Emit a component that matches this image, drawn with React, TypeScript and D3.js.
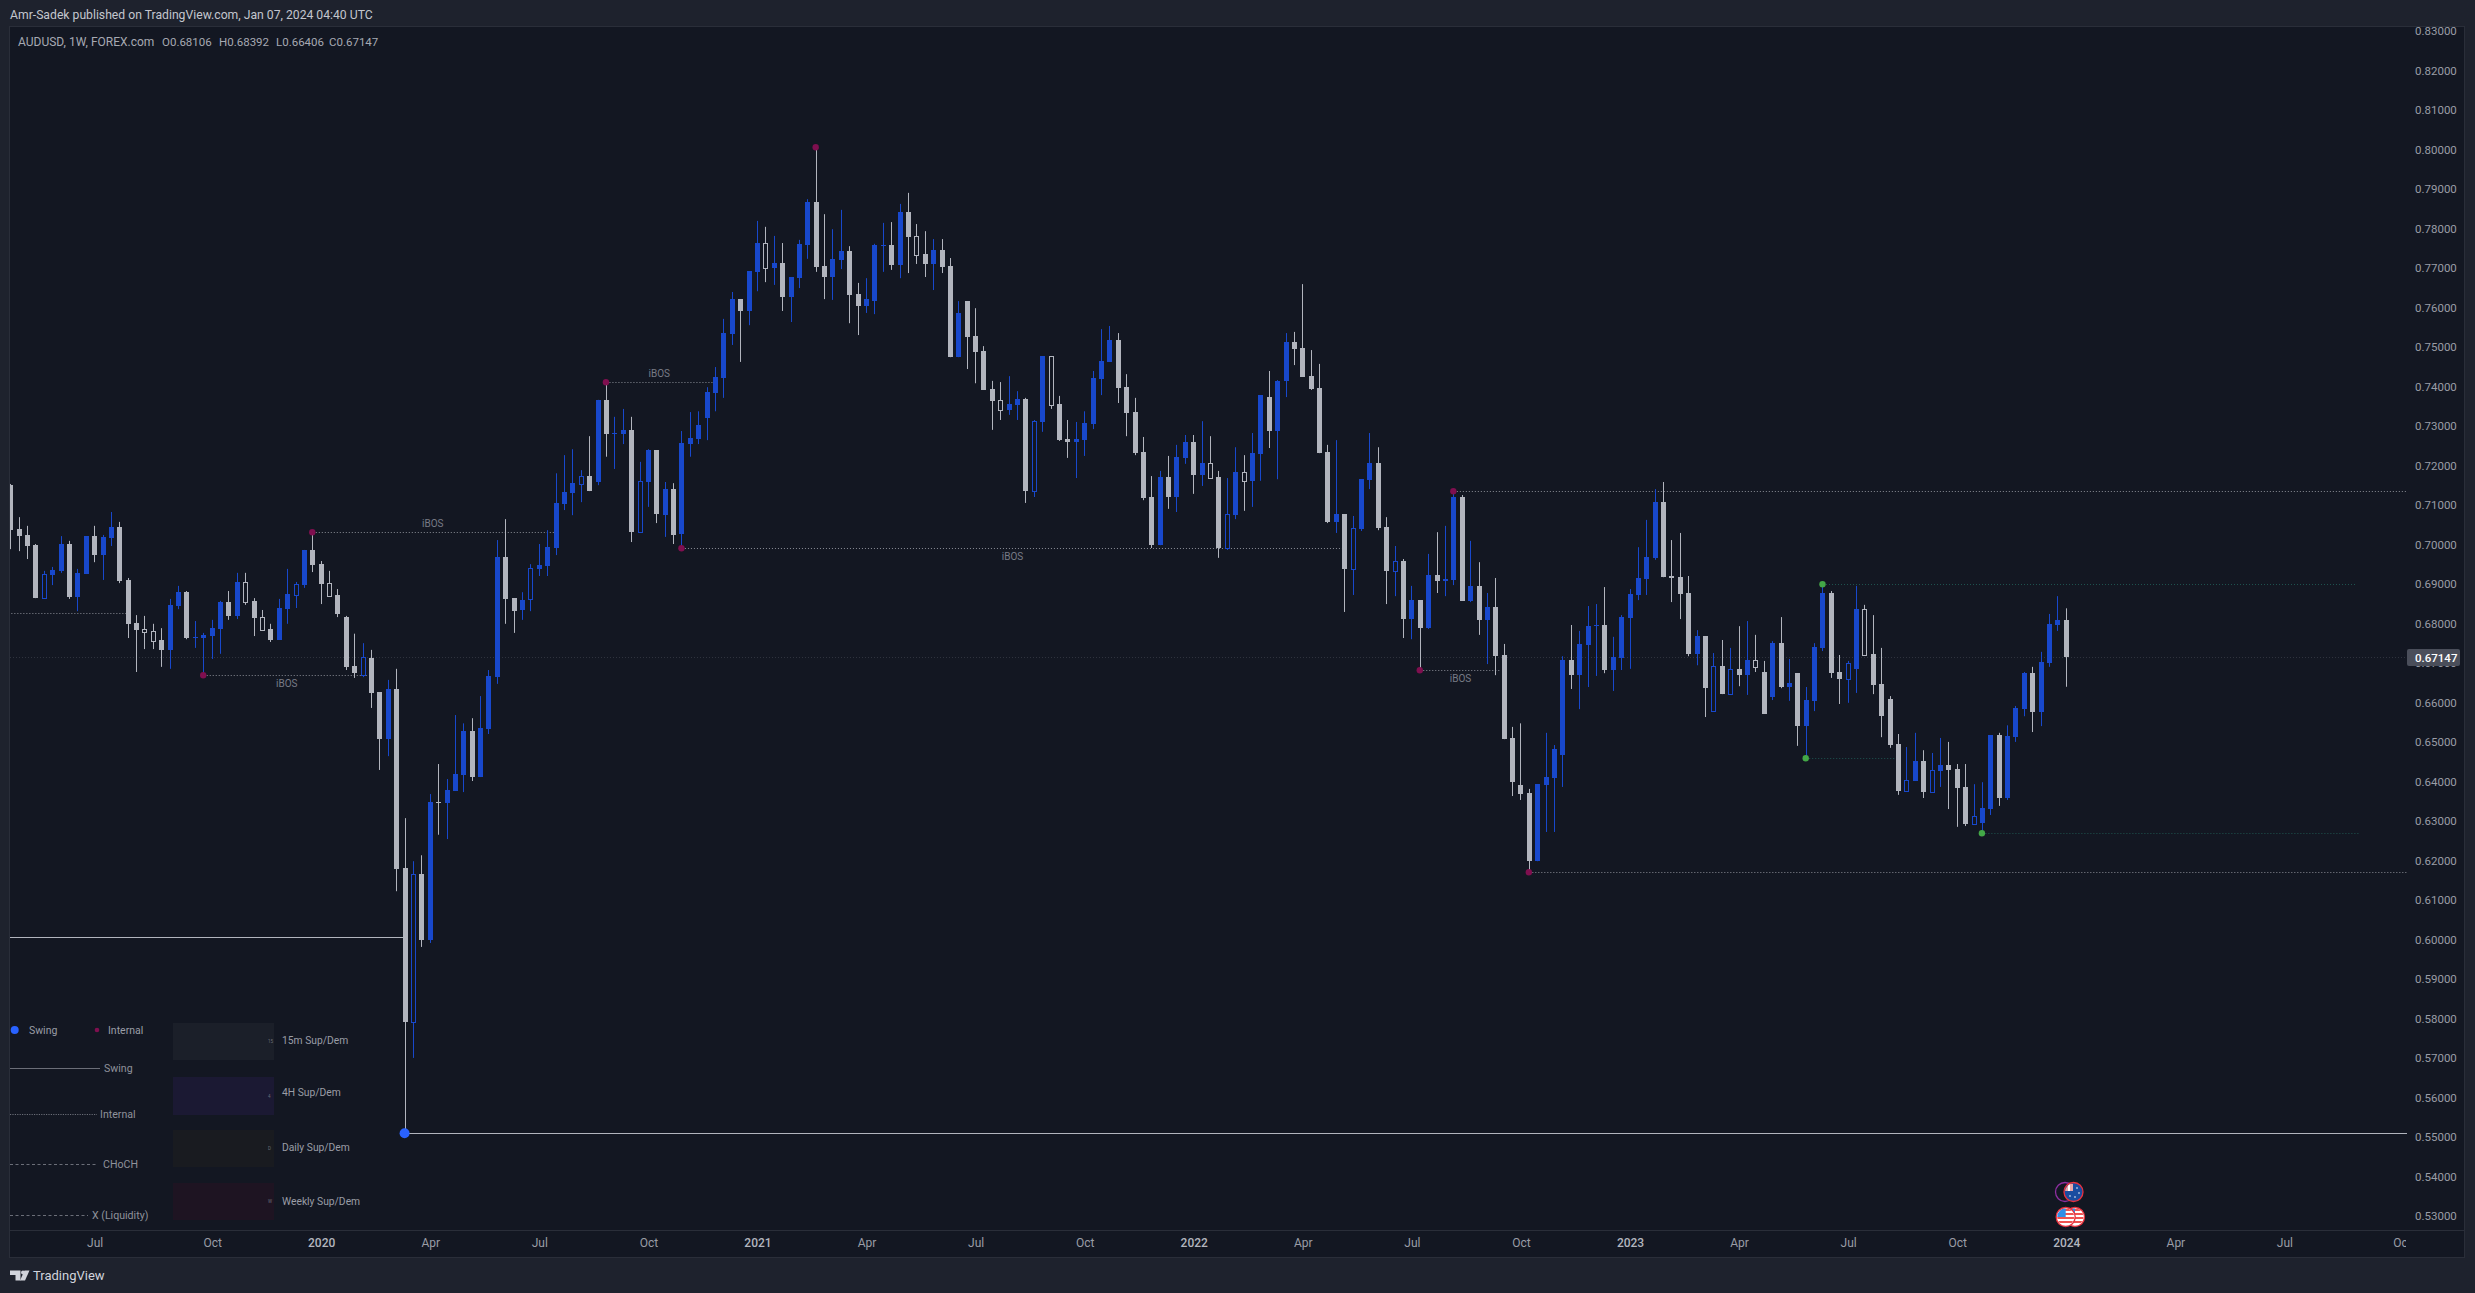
// AUDUSD weekly candles, TradingView dark layout
import React, { useRef, useEffect } from "react";
import * as d3 from "d3";

const opens = [
  .7151, .7040, .7025, .6999, .6865, .6923, .6934, .7002, .6868, .6926,
  .7022, .6974, .7017, .7045, .6911, .6802, .6787, .6782, .6759, .6734,
  .6845, .6880, .6764, .6764, .6769, .6787, .6855, .6820, .6906, .6858,
  .6817, .6787, .6759, .6837, .6873, .6898, .6987, .6951, .6903, .6873,
  .6817, .6693, .6670, .6713, .6627, .6508, .6635, .6182, .5792, .6167,
  .5999, .6349, .6346, .6377, .6417, .6529, .6412, .6534, .6665, .6969,
  .6865, .6835, .6863, .6939, .6946, .6992, .7103, .7131, .7154, .7174,
  .7159, .7367, .7281, .7281, .7291, .7032, .7159, .7240, .7075, .7141,
  .7027, .7255, .7268, .7321, .7384, .7422, .7534, .7622, .7592, .7691,
  .7764, .7701, .7713, .7627, .7675, .7759, .7868, .7706, .7678, .7721,
  .7744, .7635, .7604, .7617, .7756, .7759, .7708, .7842, .7782, .7736,
  .7711, .7746, .7706, .7475, .7617, .7528, .7491, .7394, .7367, .7341,
  .7354, .7369, .7136, .7311, .7478, .7357, .7268, .7260, .7265, .7306,
  .7419, .7463, .7519, .7399, .7336, .7235, .7121, .6999, .7172, .7121,
  .7220, .7260, .7177, .7207, .7172, .6992, .7075, .7184, .7162, .7230,
  .7374, .7288, .7415, .7513, .7498, .7427, .7397, .7235, .7058, .7078,
  .6939, .7040, .7164, .7207, .7045, .6934, .6959, .6812, .6860, .6789,
  .6923, .6908, .6911, .7121, .6858, .6896, .6810, .6843, .6721, .6511,
  .6392, .6372, .6199, .6392, .6410, .6468, .6708, .6670, .6746, .6794,
  .6797, .6683, .6713, .6815, .6873, .6913, .6967, .7108, .6921, .6918,
  .6878, .6724, .6769, .6579, .6693, .6622, .6686, .6670, .6708, .6678,
  .6615, .6751, .6640, .6675, .6541, .6605, .6739, .6878, .6678, .6660,
  .6686, .6837, .6724, .6648, .6609, .6496, .6377, .6402, .6453, .6374,
  .6427, .6443, .6432, .6387, .6293, .6296, .6331, .6518, .6359, .6513,
  .6584, .6675, .6577, .6701, .6797, .68106,
];
const highs = [
  .7154, .7070, .7048, .7002, .6934, .6944, .7022, .7010, .6939, .7022,
  .7048, .7025, .7083, .7058, .6916, .6822, .6820, .6800, .6789, .6863,
  .6896, .6883, .6807, .6777, .6810, .6858, .6883, .6929, .6929, .6865,
  .6835, .6800, .6863, .6939, .6906, .6987, .7030, .6959, .6934, .6888,
  .6820, .6775, .6751, .6734, .6627, .6658, .6686, .6308, .6199, .6214,
  .6369, .6445, .6407, .6569, .6548, .6561, .6617, .6683, .7012, .7065,
  .6865, .6880, .6951, .7002, .7037, .7181, .7227, .7242, .7189, .7275,
  .7367, .7409, .7324, .7344, .7324, .7210, .7242, .7240, .7159, .7156,
  .7288, .7336, .7338, .7399, .7450, .7572, .7640, .7622, .7693, .7820,
  .7805, .7782, .7764, .7678, .7772, .7875, .8004, .7837, .7799, .7848,
  .7756, .7663, .7675, .7762, .7815, .7817, .7863, .7891, .7812, .7794,
  .7774, .7774, .7726, .7617, .7617, .7599, .7503, .7415, .7412, .7427,
  .7389, .7372, .7316, .7478, .7478, .7377, .7316, .7311, .7338, .7440,
  .7546, .7554, .7536, .7432, .7372, .7273, .7174, .7187, .7225, .7253,
  .7278, .7278, .7313, .7275, .7187, .7169, .7247, .7227, .7283, .7379,
  .7440, .7417, .7536, .7539, .7660, .7493, .7458, .7253, .7265, .7078,
  .7073, .7166, .7283, .7247, .7070, .6997, .6964, .6896, .6860, .6977,
  .7032, .7048, .7131, .7126, .7010, .6956, .6878, .6916, .6749, .6539,
  .6548, .6382, .6394, .6524, .6493, .6718, .6797, .6782, .6845, .6850,
  .6893, .6767, .6822, .6888, .6994, .7063, .7141, .7159, .7012, .7030,
  .6921, .6784, .6769, .6726, .6759, .6739, .6794, .6807, .6772, .6706,
  .6756, .6817, .6711, .6675, .6640, .6751, .6898, .6883, .6721, .6706,
  .6896, .6848, .6822, .6739, .6617, .6521, .6488, .6524, .6480, .6473,
  .6511, .6501, .6445, .6445, .6394, .6399, .6518, .6524, .6543, .6592,
  .6678, .6691, .6729, .6825, .6870, .68392,
];
const lows = [
  .6989, .6984, .6964, .6865, .6865, .6898, .6929, .6863, .6832, .6926,
  .6956, .6911, .6997, .6903, .6764, .6678, .6736, .6736, .6691, .6686,
  .6837, .6761, .6739, .6670, .6711, .6724, .6810, .6812, .6848, .6769,
  .6782, .6754, .6759, .6800, .6840, .6891, .6931, .6850, .6870, .6817,
  .6683, .6663, .6665, .6587, .6430, .6465, .6123, .5511, .5701, .5982,
  .5992, .6266, .6255, .6377, .6374, .6402, .6412, .6521, .6648, .6800,
  .6777, .6810, .6832, .6921, .6921, .6974, .7088, .7075, .7108, .7136,
  .7151, .7223, .7192, .7255, .7007, .7030, .7096, .7055, .7020, .7002,
  .6992, .7223, .7255, .7265, .7338, .7372, .7506, .7463, .7556, .7642,
  .7665, .7658, .7592, .7564, .7650, .7724, .7691, .7622, .7620, .7698,
  .7561, .7531, .7587, .7584, .7691, .7696, .7675, .7688, .7711, .7678,
  .7645, .7688, .7475, .7475, .7445, .7409, .7392, .7291, .7316, .7329,
  .7316, .7106, .7121, .7286, .7344, .7263, .7220, .7169, .7225, .7293,
  .7379, .7463, .7359, .7275, .7227, .7113, .6992, .6999, .7091, .7083,
  .7205, .7129, .7149, .7169, .6967, .6987, .7065, .7086, .7096, .7162,
  .7245, .7166, .7374, .7455, .7425, .7392, .7232, .7055, .7030, .6830,
  .6873, .7035, .7141, .7037, .6850, .6870, .6764, .6761, .6683, .6787,
  .6878, .6870, .6898, .6858, .6855, .6772, .6698, .6670, .6508, .6364,
  .6354, .6171, .6199, .6273, .6273, .6387, .6635, .6584, .6640, .6668,
  .6675, .6630, .6683, .6686, .6860, .6873, .6962, .6918, .6855, .6812,
  .6718, .6695, .6564, .6579, .6622, .6622, .6642, .6620, .6678, .6572,
  .6607, .6637, .6605, .6491, .6460, .6579, .6731, .6663, .6597, .6600,
  .6625, .6721, .6622, .6513, .6486, .6367, .6377, .6402, .6359, .6374,
  .6387, .6331, .6286, .6288, .6293, .6273, .6316, .6339, .6354, .6501,
  .6566, .6526, .6541, .6691, .6782, .66406,
];
const closes = [
  .7037, .7022, .6997, .6865, .6926, .6936, .7002, .6868, .6929, .7022,
  .6974, .7020, .7045, .6908, .6800, .6784, .6779, .6756, .6734, .6848,
  .6880, .6764, .6767, .6772, .6789, .6855, .6820, .6906, .6855, .6815,
  .6784, .6759, .6840, .6875, .6901, .6987, .6949, .6901, .6870, .6825,
  .6691, .6675, .6716, .6625, .6508, .6635, .6179, .5792, .6167, .5999,
  .6349, .6346, .6379, .6420, .6529, .6412, .6536, .6668, .6969, .6863,
  .6832, .6860, .6941, .6949, .6994, .7106, .7133, .7156, .7174, .7136,
  .7367, .7281, .7283, .7291, .7032, .7162, .7240, .7078, .7141, .7025,
  .7258, .7270, .7303, .7387, .7425, .7536, .7622, .7592, .7693, .7764,
  .7701, .7713, .7627, .7678, .7762, .7868, .7703, .7678, .7724, .7744,
  .7632, .7604, .7622, .7759, .7759, .7708, .7842, .7779, .7734, .7711,
  .7746, .7703, .7475, .7587, .7526, .7488, .7392, .7364, .7341, .7357,
  .7369, .7136, .7313, .7478, .7354, .7265, .7260, .7268, .7308, .7422,
  .7465, .7519, .7397, .7334, .7232, .7118, .6999, .7172, .7121, .7223,
  .7260, .7177, .7207, .7169, .6992, .7078, .7184, .7162, .7232, .7379,
  .7288, .7415, .7513, .7496, .7425, .7394, .7232, .7058, .7078, .6939,
  .7042, .7166, .7207, .7042, .6934, .6959, .6812, .6860, .6789, .6923,
  .6908, .6913, .7121, .6858, .6896, .6810, .6843, .6718, .6508, .6399,
  .6369, .6199, .6394, .6412, .6483, .6708, .6670, .6749, .6794, .6797,
  .6683, .6716, .6817, .6875, .6916, .6969, .7108, .6918, .6916, .6875,
  .6724, .6769, .6637, .6693, .6622, .6686, .6670, .6708, .6691, .6572,
  .6751, .6640, .6650, .6541, .6607, .6741, .6878, .6675, .6660, .6701,
  .6837, .6721, .6645, .6566, .6493, .6377, .6405, .6453, .6374, .6430,
  .6443, .6430, .6384, .6293, .6313, .6334, .6518, .6359, .6516, .6587,
  .6675, .6577, .6703, .6800, .6810, .67147,
];

// bars drawn as outlines instead of filled bodies
const hollowBars = [
  4, 16, 17, 28, 30, 34, 38, 42, 48, 62, 68, 75, 90, 108, 118, 122, 124, 143, 145, 147,
  160, 165, 203, 205, 208, 219, 221, 226, 229, 234,
];

const priceTicks = d3.range(53, 84).map((d) => d / 100);
const timeTickBars = [10, 24, 37, 50, 63, 76, 89, 102, 115, 128, 141, 154, 167, 180, 193, 206, 219, 232, 245, 258, 271, 285];
const timeTickLabels = [
  "Jul", "Oct", "2020", "Apr", "Jul", "Oct", "2021", "Apr", "Jul", "Oct", "2022",
  "Apr", "Jul", "Oct", "2023", "Apr", "Jul", "Oct", "2024", "Apr", "Jul", "Oct",
];

// structure levels: price, first bar, last bar
const dottedLevels: [number, number, number][] = [
  [0.68266, -1, 13.9],
  [0.66696, 23, 42.6],
  [0.70316, 36, 65],
  [0.74114, 71, 83.7],
  [0.69911, 80, 158.8],
  [0.66823, 168, 177.6],
  [0.71354, 172, 287],
  [0.61709, 181, 287],
];
const tealLevels: [number, number, number][] = [
  [0.69, 216, 279.6],
  [0.64595, 214, 224.8],
  [0.62696, 235, 280],
];
const swingLevels: [number, number, number][] = [
  [0.60063, -1, 47],
  [0.55101, 47, 287],
];
const redPivots: [number, number][] = [
  [23, 0.66696], [36, 0.70316], [71, 0.74114], [80, 0.69911], [96, 0.80063],
  [168, 0.66823], [172, 0.71354], [181, 0.61709],
];
const greenPivots: [number, number][] = [[216, 0.69], [214, 0.64595], [235, 0.62696]];
const swingPivot: [number, number] = [47, 0.55101];
// iBOS tags: centre bar, price, above (-1) or below (1) the line
const ibosTags: [number, number, number][] = [
  [32.9, 0.66696, 1],
  [50.3, 0.70316, -1],
  [77.3, 0.74114, -1],
  [119.4, 0.69911, 1],
  [172.8, 0.66823, 1],
];
const lastPrice = 0.67147;

const W = 2475;
const H = 1293;
const BG = "#131722";
const FRAME = "#1e222d";
const UP = "#1848cc";
const DOWN = "#b2b5be";
const FONT = "Roboto, 'Noto Sans', sans-serif";

const App: React.FC = () => {
  const svgRef = useRef<SVGSVGElement | null>(null);

  useEffect(() => {
    if (!svgRef.current) return;
    const svg = d3.select(svgRef.current);
    svg.selectAll("*").remove();

    const xScale = d3.scaleLinear().domain([0, 245]).range([10.75, 2066.3]);
    const yScale = d3.scaleLinear().domain([0.69, 0.55]).range([584.3, 1137.3]);
    const snap = (i: number) => Math.floor(xScale(i)) + 0.5;

    // Frame and pane
    svg.append("rect").attr("width", W).attr("height", H).attr("fill", FRAME);
    svg.append("rect").attr("x", 9.5).attr("y", 26.5).attr("width", 2455).attr("height", 1231)
      .attr("fill", BG).attr("stroke", "#2a2e39");
    svg.append("line").attr("x1", 10).attr("x2", 2464).attr("y1", 1230.5).attr("y2", 1230.5)
      .attr("stroke", "#2a2e39");

    const defs = svg.append("defs");
    defs.append("clipPath").attr("id", "pane").append("rect")
      .attr("x", 10).attr("y", 27).attr("width", 2397).attr("height", 1203);

    // Price axis
    const priceAxis = svg.append("g").attr("transform", "translate(2415,0)")
      .call(d3.axisRight(yScale).tickValues(priceTicks).tickFormat(d3.format(".5f")).tickSize(0).tickPadding(0));
    priceAxis.select(".domain").remove();
    priceAxis.selectAll("text").attr("fill", "#9a9da6").attr("font-family", FONT).attr("font-size", 11.5);

    // Time axis
    const timeAxis = svg.append("g").attr("transform", "translate(0,1231)")
      .call(
        d3.axisBottom(xScale).tickValues(timeTickBars)
          .tickFormat((_d, i) => timeTickLabels[i]).tickSize(0).tickPadding(7),
      );
    timeAxis.select(".domain").remove();
    timeAxis.selectAll<SVGTextElement, number>("text")
      .attr("font-family", FONT).attr("font-size", 12)
      .attr("fill", (_d, i) => (/^\d/.test(timeTickLabels[i]) ? "#b2b5be" : "#9a9da6"))
      .attr("font-weight", (_d, i) => (/^\d/.test(timeTickLabels[i]) ? 500 : 400));
    // the last label runs into the price scale
    svg.append("rect").attr("x", 2406).attr("y", 1231).attr("width", 58).attr("height", 26).attr("fill", BG);

    const pane = svg.append("g").attr("clip-path", "url(#pane)");

    // Last price line
    pane.append("line").attr("x1", 10).attr("x2", 2407)
      .attr("y1", Math.round(yScale(lastPrice)) + 0.5).attr("y2", Math.round(yScale(lastPrice)) + 0.5)
      .attr("stroke", "#2f333e").attr("stroke-dasharray", "1 2");

    // Structure levels
    const levelLine = (rows: [number, number, number][], color: string, dash: string | null, width: number) => {
      pane.append("g").selectAll("line").data(rows).enter().append("line")
        .attr("x1", (d) => xScale(d[1]))
        .attr("x2", (d) => xScale(d[2]))
        .attr("y1", (d) => Math.round(yScale(d[0])) + 0.5)
        .attr("y2", (d) => Math.round(yScale(d[0])) + 0.5)
        .attr("stroke", color).attr("stroke-width", width)
        .attr("stroke-dasharray", dash);
    };
    levelLine(dottedLevels, "#8a8d96", "1 2", 1);
    levelLine(tealLevels, "#1f5450", "1 2", 1);

    // Candles
    const bars = d3.range(opens.length);
    const candles = pane.append("g");
    candles.selectAll(".wick").data(bars).enter().append("rect")
      .attr("class", "wick")
      .attr("x", (i) => snap(i) - 0.5)
      .attr("width", 1)
      .attr("y", (i) => yScale(highs[i]))
      .attr("height", (i) => Math.max(1, yScale(lows[i]) - yScale(highs[i])))
      .attr("fill", (i) => (closes[i] >= opens[i] ? UP : DOWN));
    candles.selectAll(".body").data(bars).enter().append("rect")
      .attr("class", "body")
      .attr("x", (i) => snap(i) - (hollowBars.includes(i) ? 2 : 2.5))
      .attr("width", (i) => (hollowBars.includes(i) ? 4 : 5))
      .attr("y", (i) => Math.round(yScale(Math.max(opens[i], closes[i]))) + (hollowBars.includes(i) ? 0.5 : 0))
      .attr("height", (i) =>
        Math.max(1, Math.round(yScale(Math.min(opens[i], closes[i]))) - Math.round(yScale(Math.max(opens[i], closes[i])))))
      .attr("fill", (i) => (hollowBars.includes(i) ? BG : closes[i] >= opens[i] ? UP : DOWN))
      .attr("stroke", (i) => (hollowBars.includes(i) ? (closes[i] >= opens[i] ? UP : DOWN) : "none"))
      .attr("stroke-width", 1);

    levelLine(swingLevels, "#b2b5be", null, 1.2);

    // Pivots
    const pivots = (rows: [number, number][], color: string, r: number) => {
      pane.append("g").selectAll("circle").data(rows).enter().append("circle")
        .attr("cx", (d) => xScale(d[0]) - 0.5)
        .attr("cy", (d) => yScale(d[1]))
        .attr("r", r).attr("fill", color);
    };
    pivots(redPivots, "#7f0f4f", 3.2);
    pivots(greenPivots, "#43a847", 3.2);
    pivots([swingPivot], "#2962ff", 5);

    // iBOS tags
    pane.append("g").selectAll("text").data(ibosTags).enter().append("text")
      .attr("x", (d) => xScale(d[0]))
      .attr("y", (d) => yScale(d[1]) + d[2] * 8.5)
      .attr("dy", "0.35em")
      .attr("text-anchor", "middle")
      .attr("font-family", FONT).attr("font-size", 10).attr("fill", "#787b86")
      .text("iBOS");

    // Last price tag
    svg.append("rect").attr("x", 2407).attr("y", 649).attr("width", 53).attr("height", 17).attr("rx", 2).attr("fill", "#4a4e5a");
    svg.append("text").attr("x", 2415).attr("y", yScale(lastPrice)).attr("dy", "0.35em")
      .attr("font-family", FONT).attr("font-size", 11.5).attr("font-weight", 500).attr("fill", "#ffffff")
      .text(d3.format(".5f")(lastPrice));

    // Header text
    const label = (x: number, y: number, t: string, size: number, fill: string, parent: any = svg) =>
      parent.append("text").attr("x", x).attr("y", y).attr("dy", "0.35em")
        .attr("font-family", FONT).attr("font-size", size).attr("fill", fill).text(t);
    label(10, 14.5, "Amr-Sadek published on TradingView.com, Jan 07, 2024 04:40 UTC", 12.2, "#c3c6ce");
    label(18, 41.5, "AUDUSD, 1W, FOREX.com", 12, "#a6a9b2");
    label(162, 41.5, "O0.68106", 11.5, "#a6a9b2");
    label(219, 41.5, "H0.68392", 11.5, "#a6a9b2");
    label(276, 41.5, "L0.66406", 11.5, "#a6a9b2");
    label(329, 41.5, "C0.67147", 11.5, "#a6a9b2");

    // Bottom-left key
    const key = svg.append("g");
    key.append("circle").attr("cx", 14.7).attr("cy", 1030).attr("r", 4).attr("fill", "#2962ff");
    key.append("circle").attr("cx", 97).attr("cy", 1030).attr("r", 2.3).attr("fill", "#7f0f4f");
    label(29, 1030, "Swing", 10.5, "#9a9da6", key);
    label(108, 1030, "Internal", 10.5, "#9a9da6", key);
    const keyLines: [number, number, string | null, string, number][] = [
      [1068.5, 100, null, "Swing", 104],
      [1114.5, 97, "1.2 1.2", "Internal", 100],
      [1164.5, 97, "3 2.5", "CHoCH", 103],
      [1215.5, 88, "3 2.5", "X (Liquidity)", 92],
    ];
    keyLines.forEach(([y, x2, dash, t, tx]) => {
      key.append("line").attr("x1", 10).attr("x2", x2).attr("y1", y).attr("y2", y)
        .attr("stroke", "#6b6e78").attr("stroke-dasharray", dash);
      label(tx, y, t, 10.6, "#8f929b", key);
    });
    const zoneKeys: [number, number, string, string, string, number][] = [
      [1023, 37, "#1b1f29", "15m Sup/Dem", "15", 1040],
      [1077, 38, "#1b1933", "4H Sup/Dem", "4", 1092.5],
      [1130, 37, "#191b20", "Daily Sup/Dem", "D", 1147],
      [1183, 37, "#1e1422", "Weekly Sup/Dem", "W", 1201.5],
    ];
    zoneKeys.forEach(([y, h, fill, t, tiny, ty]) => {
      key.append("rect").attr("x", 173).attr("y", y).attr("width", 101).attr("height", h).attr("fill", fill);
      label(282, ty, t, 10.3, "#9a9da6", key);
      label(268, y + h / 2, tiny, 4.5, "#6b6e78", key);
    });

    // Currency flags
    const flags = svg.append("g");
    const flagClip = (id: string, cx: number, cy: number) =>
      defs.append("clipPath").attr("id", id).append("circle").attr("cx", cx).attr("cy", cy).attr("r", 8.5);
    flags.append("circle").attr("cx", 2065).attr("cy", 1192).attr("r", 9.5).attr("fill", BG)
      .attr("stroke", "#8e2fa0").attr("stroke-width", 1.3);
    flagClip("au", 2073.5, 1192);
    flags.append("circle").attr("cx", 2073.5).attr("cy", 1192).attr("r", 9.5).attr("fill", "#1a4ca0")
      .attr("stroke", "#e8313e").attr("stroke-width", 1.3);
    const au = flags.append("g").attr("clip-path", "url(#au)");
    au.append("rect").attr("x", 2065).attr("y", 1184).attr("width", 8).attr("height", 7).attr("fill", "#e9a7a9");
    au.append("rect").attr("x", 2068).attr("y", 1184).attr("width", 2).attr("height", 7).attr("fill", "#ffffff");
    [[2077, 1188], [2079, 1193], [2075, 1197], [2070, 1196]].forEach(([cx, cy]) =>
      au.append("circle").attr("cx", cx).attr("cy", cy).attr("r", 0.8).attr("fill", "#ffffff"));

    const usFlag = (id: string, cx: number, cy: number) => {
      flagClip(id, cx, cy);
      flags.append("circle").attr("cx", cx).attr("cy", cy).attr("r", 9.5).attr("fill", "#ffffff")
        .attr("stroke", "#e8313e").attr("stroke-width", 1.3);
      const g = flags.append("g").attr("clip-path", `url(#${id})`);
      [-8, -4, 0, 4].forEach((dy) =>
        g.append("rect").attr("x", cx - 10).attr("y", cy + dy).attr("width", 20).attr("height", 2).attr("fill", "#ef5350"));
      g.append("rect").attr("x", cx - 10).attr("y", cy - 9).attr("width", 10).attr("height", 9).attr("fill", "#2f8fe8");
    };
    usFlag("us2", 2075, 1217);
    usFlag("us1", 2065.7, 1217);

    // TradingView mark
    const logo = svg.append("g").attr("fill", "#d1d4dc");
    logo.append("path").attr("d", "M10 1270.5h10.5v10h-5v-5.5H10z");
    logo.append("circle").attr("cx", 23).attr("cy", 1272.5).attr("r", 2);
    logo.append("path").attr("d", "M24.5 1270.5H29.5L25 1280.5H20z");
    label(33, 1275.5, "TradingView", 13, "#d1d4dc");
  }, []);

  return <svg ref={svgRef} width={W} height={H} style={{ position: "absolute", left: 0, top: 0 }} />;
};

export default App;
